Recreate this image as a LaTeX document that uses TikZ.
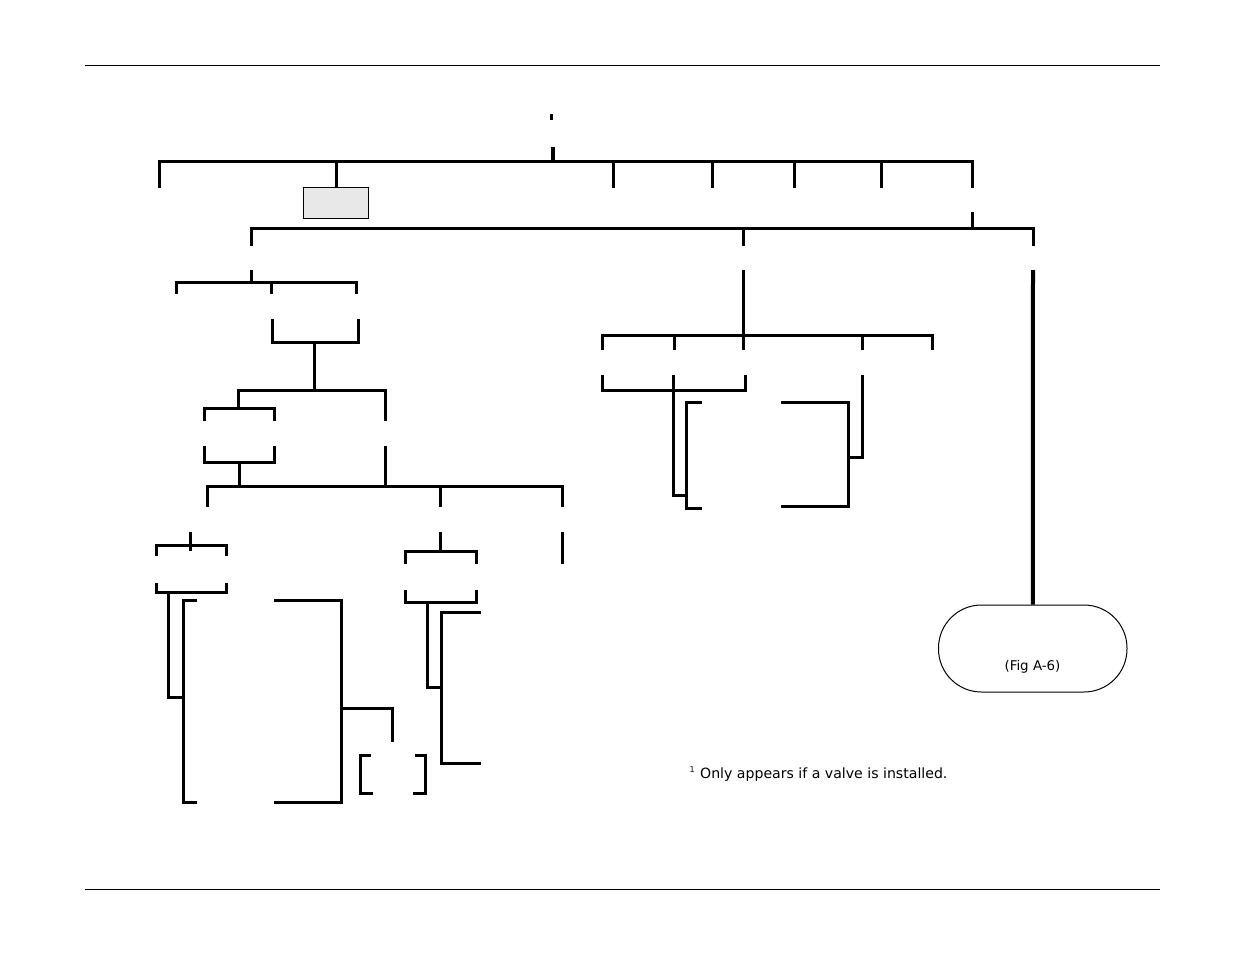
\documentclass[tikz,border=0pt]{standalone}
\usepackage{fontspec}
\setmainfont{DejaVu Sans}
\usetikzlibrary{positioning}
\tikzset{
    rule/.style={
           black, line width=0.8pt,
           },
    bus/.style={
           black, line width=3pt,
           },
    branch/.style={
           black, line width=3pt,
           },
    greybox/.style={
           rectangle,
           draw=black, line width=0.8pt,
           fill=black!9,
           inner sep=0pt,
           minimum width=65pt, minimum height=31pt,
           },
    pill/.style={
           rectangle,
           draw=black, line width=1pt,
           rounded corners=43pt,
           inner sep=0pt,
           minimum width=188.5pt, minimum height=87pt,
           },
}

\begin{document}
\begin{tikzpicture}[x=1pt,y=-1pt]
\useasboundingbox (0,0) rectangle (1235,954);
\draw[rule] (85,65) -- (1160,65);
\draw[rule] (85,889) -- (1160,889);
\node[greybox] (memory) at (336,203) {};
\node[pill] (fig) at (1032.75,648.5) {};
\node[inner sep=0pt, font=\fontsize{13.4}{15}\selectfont] (figlabel) at (1032.5,666.5) {(Fig A-6)};
\node[inner sep=0pt, anchor=west, font=\fontsize{14.1}{16}\selectfont] (note) at (700,775) {Only appears if a valve is installed.};
\node[inner sep=0pt, left=5pt of note.west, yshift=5pt, font=\fontsize{8}{9}\selectfont] (notemark) {1};
% top level
\coordinate (a) at (553,147);
\coordinate (b) at (553,161);
\draw[bus] (551.7,114) -- (551.7,119.5);
\draw[bus, line width=4pt] (a) -- (b);
\draw[bus] (157.5,161) -- (974,161);
\draw[bus] (159,161) -- (159,187.5);
\draw[bus] (336.5,161) -- (336.5,187);
\draw[bus] (613.5,161) -- (613.5,187.5);
\draw[bus] (712.5,161) -- (712.5,187.5);
\draw[bus] (794.5,161) -- (794.5,187.5);
\draw[bus] (881,161) -- (881,187.5);
\draw[bus] (972.5,161) -- (972.5,187.5);
% second level
\draw[bus] (972.5,212) -- (972.5,228.5);
\draw[bus] (249.5,228.5) -- (1034.5,228.5);
\draw[bus] (251,228.5) -- (251,245.5);
\draw[bus] (743.5,228.5) -- (743.5,245.5);
\draw[bus] (1033,228.5) -- (1033,245.5);
% left branch
\draw[bus] (251.5,270) -- (251.5,282.5);
\draw[bus] (174.5,282.5) -- (358,282.5);
\draw[bus] (176,282.5) -- (176,293.5);
\draw[bus] (271.5,282.5) -- (271.5,293.5);
\draw[bus] (356.5,282.5) -- (356.5,293.5);
\draw[bus] (272.5,319) -- (272.5,342) -- (358,342) -- (358,319);
\draw[bus] (314.5,342) -- (314.5,390);
\draw[bus] (385.5,420.5) -- (385.5,390) -- (238.5,390) -- (238.5,408.5);
\draw[branch] (204,420.5) -- (204,408.5) -- (274.5,408.5) -- (274.5,420.5);
\draw[branch] (204,446) -- (204,462.5) -- (274.5,462.5) -- (274.5,446);
\draw[branch] (239.5,462.5) -- (239.5,486.5);
\draw[branch] (385.5,446) -- (385.5,486.5);
\draw[branch] (207.5,506.5) -- (207.5,486.5) -- (562.5,486.5) -- (562.5,506.5);
\draw[branch] (440.5,486.5) -- (440.5,506.5);
% bottom left
\draw[branch] (190.5,532) -- (190.5,551);
\draw[branch] (156,556) -- (156,545.5) -- (226,545.5) -- (226,556);
\draw[branch] (156,583) -- (156,592) -- (226,592) -- (226,583);
\draw[branch] (168.5,592) -- (168.5,697.5) -- (183,697.5);
\draw[branch] (196.5,600.5) -- (183,600.5) -- (183,802) -- (196.5,802);
\draw[branch] (274,600.5) -- (341.5,600.5) -- (341.5,802) -- (274,802);
\draw[branch] (341.5,708) -- (392.5,708) -- (392.5,742);
\draw[branch] (371,755.5) -- (360.5,755.5) -- (360.5,793.5) -- (372.5,793.5);
\draw[branch] (414.5,755.5) -- (425,755.5) -- (425,793.5) -- (413,793.5);
% bottom middle
\draw[branch] (440.5,532) -- (440.5,551);
\draw[branch] (405.5,563.5) -- (405.5,551) -- (476,551) -- (476,563.5);
\draw[branch] (405.5,590) -- (405.5,602) -- (476,602) -- (476,590);
\draw[branch] (427,602) -- (427,687) -- (441.5,687);
\draw[branch] (481,612) -- (441.5,612) -- (441.5,763) -- (481,763);
\draw[branch] (562.5,532) -- (562.5,564);
% right branch
\draw[bus] (743.5,270) -- (743.5,335);
\draw[branch] (602.3,349.5) -- (602.3,335) -- (932.5,335) -- (932.5,349.5);
\draw[branch] (674,335) -- (674,349.5);
\draw[branch] (743.5,335) -- (743.5,349.5);
\draw[branch] (862.5,335) -- (862.5,349.5);
\draw[branch] (602.5,375) -- (602.5,390.5) -- (745,390.5) -- (745,375);
\draw[branch] (673.5,375) -- (673.5,495) -- (686.5,495);
\draw[branch] (702,402) -- (686.5,402) -- (686.5,508.5) -- (702,508.5);
\draw[branch] (781,402) -- (848.5,402) -- (848.5,506.5) -- (781,506.5);
\draw[branch] (848.5,457.5) -- (862.5,457.5) -- (862.5,375);
% far right
\draw[bus, line width=4pt] (1033,270) -- (fig.north);
\end{tikzpicture}
\end{document}
